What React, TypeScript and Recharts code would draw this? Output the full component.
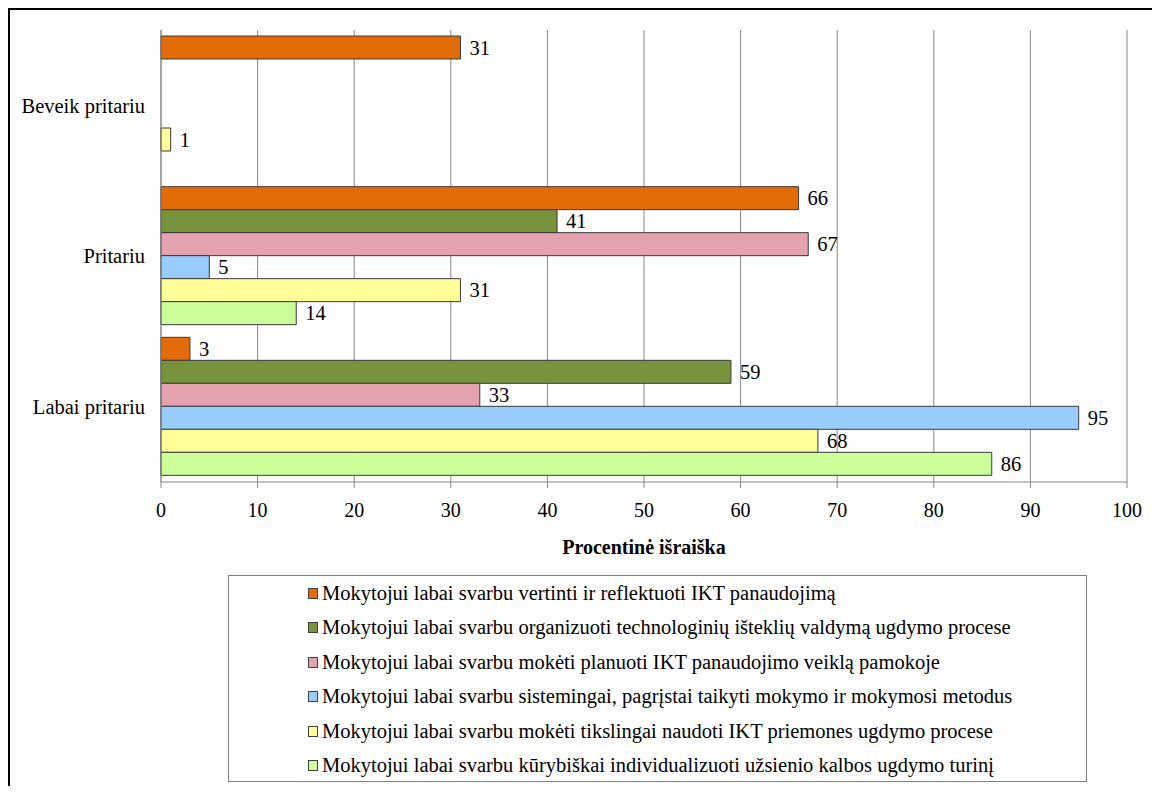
import React from "react"
import { BarChart, Bar, XAxis, YAxis, CartesianGrid, Legend, LabelList } from "recharts"

const categories = ["Beveik pritariu", "Pritariu", "Labai pritariu"]

const vertinti = [31, 66, 3]
const organizuoti = [null, 41, 59]
const planuoti = [null, 67, 33]
const sistemingai = [null, 5, 95]
const tikslingai = [1, 31, 68]
const kurybiskai = [null, 14, 86]

const xTicks = [0, 10, 20, 30, 40, 50, 60, 70, 80, 90, 100]

const series = [
  { key: "vertinti", values: vertinti, color: "#E36C09", name: "Mokytojui labai svarbu vertinti ir reflektuoti IKT panaudojimą" },
  { key: "organizuoti", values: organizuoti, color: "#77933C", name: "Mokytojui labai svarbu organizuoti technologinių išteklių valdymą ugdymo procese" },
  { key: "planuoti", values: planuoti, color: "#E4A2AF", name: "Mokytojui labai svarbu mokėti planuoti IKT panaudojimo veiklą pamokoje" },
  { key: "sistemingai", values: sistemingai, color: "#99CCFF", name: "Mokytojui labai svarbu sistemingai, pagrįstai taikyti mokymo ir mokymosi metodus" },
  { key: "tikslingai", values: tikslingai, color: "#FFFF99", name: "Mokytojui labai svarbu mokėti tikslingai naudoti IKT priemones ugdymo procese" },
  { key: "kurybiskai", values: kurybiskai, color: "#CCFF99", name: "Mokytojui labai svarbu kūrybiškai individualizuoti užsienio kalbos ugdymo turinį" },
]

// one row per category, built from the arrays above
const data = categories.map((cat, i) => {
  const row: any = { cat }
  series.forEach((s) => {
    row[s.key] = s.values[i]
  })
  return row
})

const FONT = "'Liberation Serif', 'Times New Roman', serif"

function LegendBox({ payload }: any) {
  // keep the series order (recharts may reorder the payload)
  const items = series
    .map((s) => (payload || []).find((p: any) => p.dataKey === s.key))
    .filter(Boolean)
  return (
    <div style={{ fontFamily: FONT, fontSize: 20.5, color: "#000" }}>
      {items.map((p: any) => (
        <div key={p.value} style={{ height: 34.5, display: "flex", alignItems: "center", paddingLeft: 79 }}>
          <span
            style={{
              display: "inline-block",
              width: 8,
              height: 9,
              background: p.color,
              border: "1px solid #404040",
              marginRight: 4,
            }}
          />
          <span style={{ whiteSpace: "nowrap" }}>{p.value}</span>
        </div>
      ))}
    </div>
  )
}

export default function App() {
  return (
    <div
      style={{
        position: "relative",
        width: 1144,
        height: 778,
        borderTop: "2px solid #000",
        borderLeft: "2px solid #000",
        boxSizing: "border-box",
        fontFamily: FONT,
      }}
    >
      <div style={{ position: "absolute", left: -2, top: -2 }}>
        <BarChart
          width={1144}
          height={778}
          data={data}
          layout="vertical"
          margin={{ top: 22, right: 25, bottom: 224, left: 0 }}
          barCategoryGap={6}
          barGap={0}
          style={{ fontFamily: FONT }}
        >
          <CartesianGrid horizontal={false} vertical stroke="#868686" />
          <XAxis
            type="number"
            domain={[0, 100]}
            ticks={xTicks}
            interval={0}
            height={80}
            stroke="#868686"
            tickSize={6}
            tickMargin={15}
            tick={{ fill: "#000", fontSize: 20, fontFamily: FONT }}
            label={{
              value: "Procentinė išraiška",
              position: "insideBottom",
              offset: 8,
              style: { fill: "#000", fontSize: 20, fontWeight: "bold", fontFamily: FONT },
            }}
          />
          <XAxis
            xAxisId="top"
            orientation="top"
            type="number"
            domain={[0, 100]}
            height={0}
            stroke="#000"
            tick={false}
            tickLine={false}
          />
          <YAxis
            yAxisId="edge"
            type="number"
            domain={[0, 3]}
            ticks={[0, 1, 2, 3]}
            width={0}
            axisLine={false}
            tickSize={6}
            tickLine={{ stroke: "#868686" }}
            tickFormatter={() => ""}
          />
          <YAxis
            yAxisId="cat"
            type="category"
            dataKey="cat"
            width={153}
            stroke="#868686"
            tickLine={false}
            tickSize={6}
            tickMargin={10}
            tick={{ fill: "#000", fontSize: 20.5, fontFamily: FONT }}
          />
          <Legend
            layout="horizontal"
            verticalAlign="middle"
            align="center"
            content={<LegendBox />}
            wrapperStyle={{
              left: 220,
              top: 567,
              width: 859,
              height: 207,
              border: "1px solid #7f7f7f",
              boxSizing: "border-box",
              background: "#fff",
            }}
          />
          {series.map((s) => (
            <Bar
              key={s.key}
              yAxisId="cat"
              dataKey={s.key}
              name={s.name}
              fill={s.color}
              stroke="#3a3a3a"
              strokeWidth={1}
              isAnimationActive={false}
            >
              <LabelList
                dataKey={s.key}
                position="right"
                offset={9}
                style={{ fill: "#000", fontSize: 20.5, fontFamily: FONT }}
              />
            </Bar>
          ))}
        </BarChart>
      </div>
    </div>
  )
}
